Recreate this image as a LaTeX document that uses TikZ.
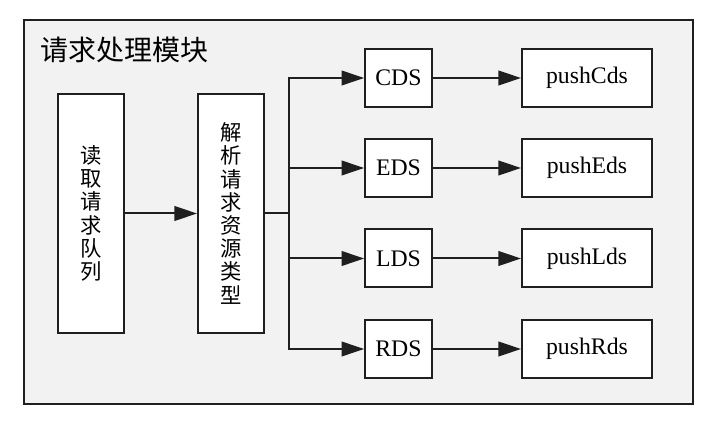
\documentclass[tikz,border=0pt]{standalone}
\usepackage{fontspec}
\setmainfont{Liberation Serif}
\newfontfamily\cjk{Noto Sans CJK SC}
\usepackage{tikz}
\usetikzlibrary{arrows.meta}

\begin{document}
\begin{tikzpicture}[x=0.75pt,y=-0.75pt,
  box/.style={draw=black!88,line width=1.5pt,fill=white,inner sep=0pt},
  dsbox/.style={box,minimum width=50pt,minimum height=43.5pt,font=\fontsize{17.8}{19}\selectfont},
  pushbox/.style={box,minimum width=97.5pt,minimum height=43.5pt,font=\fontsize{17.8}{19}\selectfont},
  colbox/.style={box,minimum width=49.5pt,minimum height=179pt,align=center,font=\cjk\fontsize{16}{17.4}\selectfont},
  link/.style={draw=black!88,line width=1.5pt,-{Triangle[length=17pt,width=11pt]}}]
          \useasboundingbox (0,0) rectangle (718,423);
          \filldraw[fill=black!5, draw=black!88, line width=1.5pt] (24,20) rectangle (693,404);
          \node (title) at (40,50) [anchor=west, inner sep=0pt] {\cjk\fontsize{21}{23}\selectfont 请求处理模块};
          \node[colbox] (read) at (91,213.5) {读\\取\\请\\求\\队\\列};
          \node[colbox] (parse) at (231,213.5) {解\\析\\请\\求\\资\\源\\类\\型};
          \coordinate (bus) at (289,213.5);
          \draw[link] (read) -- (parse);
          \draw[draw=black!88, line width=1.5pt] (parse.east) -- (bus);
          \foreach \n/\y in {C/78,E/168,L/258.5,R/349}
          {
          \node[dsbox] (ds\n) at (398.5,\y) {\n DS};
          \node[pushbox] (push\n) at (587,\y) {push\n ds};
          \draw[link] (bus) |- (ds\n.west);
          \draw[link] (ds\n) -- (push\n);
          }
        \end{tikzpicture}
\end{document}
